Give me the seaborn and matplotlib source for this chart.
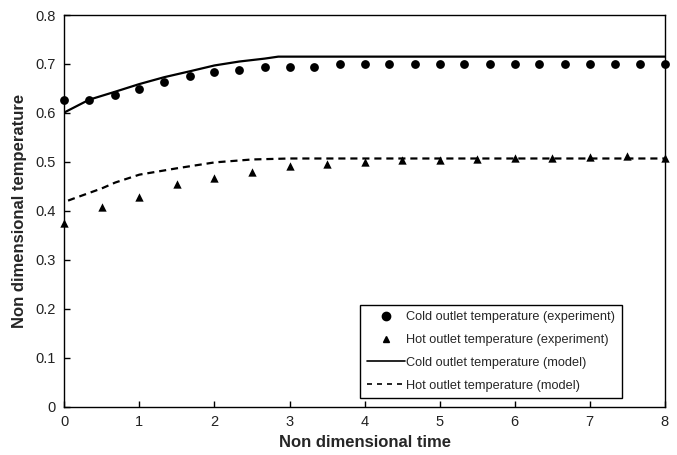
import numpy as np
import pandas as pd
import matplotlib
matplotlib.use('Agg')
import matplotlib.pyplot as plt
import seaborn as sns
from matplotlib.lines import Line2D
from matplotlib.ticker import FuncFormatter

# experimental points
cold_time = [0, 0.33, 0.67, 1.0, 1.33, 1.67, 2.0, 2.33, 2.67, 3.0, 3.33, 3.67, 4.0,
             4.33, 4.67, 5.0, 5.33, 5.67, 6.0, 6.33, 6.67, 7.0, 7.33, 7.67, 8.0]
cold_exp = [0.626, 0.626, 0.636, 0.648, 0.663, 0.675, 0.684, 0.688, 0.693, 0.693, 0.694, 0.699, 0.699,
            0.700, 0.700, 0.700, 0.700, 0.700, 0.700, 0.700, 0.700, 0.700, 0.700, 0.700, 0.700]

hot_time = [0, 0.5, 1.0, 1.5, 2.0, 2.5, 3.0, 3.5, 4.0, 4.5, 5.0, 5.5, 6.0, 6.5, 7.0, 7.5, 8.0]
hot_exp = [0.376, 0.408, 0.429, 0.454, 0.467, 0.480, 0.492, 0.495, 0.499, 0.503, 0.503,
           0.505, 0.508, 0.507, 0.511, 0.513, 0.508]

# model curves
cold_model_time = [0, 0.33, 0.67, 1.0, 1.33, 1.67, 2.0, 2.33, 2.67, 2.85, 3.5, 8.0]
cold_model = [0.601, 0.627, 0.643, 0.659, 0.673, 0.685, 0.697, 0.705, 0.711, 0.715, 0.715, 0.715]

hot_model_time = [0.05, 0.12, 0.5, 0.68, 1.0, 1.5, 2.0, 2.5, 3.0, 8.0]
hot_model = [0.421, 0.425, 0.446, 0.458, 0.474, 0.487, 0.499, 0.505, 0.507, 0.507]

labels = ['Cold outlet temperature (experiment)', 'Hot outlet temperature (experiment)',
          'Cold outlet temperature (model)', 'Hot outlet temperature (model)']

sns.set_style('white')
plt.rcParams['font.family'] = ['Liberation Sans', 'DejaVu Sans']

fig, ax = plt.subplots(figsize=(6.77, 4.55), dpi=100)
fig.subplots_adjust(left=0.095, right=0.982, top=0.967, bottom=0.106)

sns.lineplot(x=cold_model_time, y=cold_model, ax=ax, color='black', linewidth=1.6)
sns.lineplot(x=hot_model_time, y=hot_model, ax=ax, color='black', linewidth=1.6)
ax.lines[-1].set_linestyle((0, (3.2, 2.2)))
sns.scatterplot(x=cold_time, y=cold_exp, ax=ax, color='black', marker='o', s=40,
                edgecolor='black', linewidth=0, zorder=3, clip_on=False)
sns.scatterplot(x=hot_time, y=hot_exp, ax=ax, color='black', marker='^', s=36,
                edgecolor='black', linewidth=0, zorder=3, clip_on=False)

ax.set_xlim(0, 8)
ax.set_ylim(0, 0.8)
ax.set_xticks(range(0, 9))
ax.set_yticks([0, 0.1, 0.2, 0.3, 0.4, 0.5, 0.6, 0.7, 0.8])
ax.yaxis.set_major_formatter(FuncFormatter(lambda v, p: '%g' % round(v, 2)))
ax.tick_params(bottom=True, left=True, direction='in', length=4, width=1, colors='black',
               labelsize=10.5, labelcolor='#222222', pad=6)
for s in ax.spines.values():
    s.set_color('black')
    s.set_linewidth(1.0)

ax.set_xlabel('Non dimensional time', fontsize=12, fontweight='bold', labelpad=4)
ax.set_ylabel('Non dimensional temperature', fontsize=12, fontweight='bold', labelpad=6)

handles = [
    Line2D([], [], color='black', marker='o', linestyle='none', markersize=6),
    Line2D([], [], color='black', marker='^', linestyle='none', markersize=5),
    Line2D([], [], color='black', linewidth=1.2),
    Line2D([], [], color='black', linewidth=1.2, linestyle=(0, (3, 3))),
]
leg = ax.legend(handles, labels, loc='lower right', bbox_to_anchor=(0.928, 0.022),
                fontsize=9.2, frameon=True, fancybox=False, framealpha=1,
                handlelength=3.0, handletextpad=0.1, borderpad=0.5, labelspacing=0.85,
                borderaxespad=0)
leg.get_frame().set_edgecolor('black')
leg.get_frame().set_linewidth(1.0)

fig.savefig('out.png', dpi=100)
